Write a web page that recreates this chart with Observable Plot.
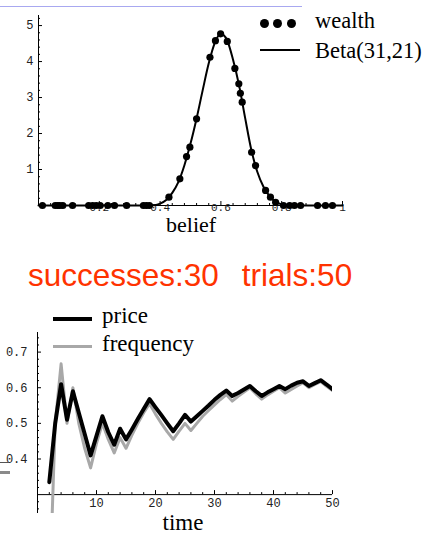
<!DOCTYPE html>
<html><head><meta charset="utf-8">
<script src="https://cdn.jsdelivr.net/npm/d3@7"></script>
<script src="https://cdn.jsdelivr.net/npm/@observablehq/plot@0.6"></script>
<style>
html,body{margin:0;padding:0;background:#fff;}
#page{position:relative;width:431px;height:535px;overflow:hidden;background:#fff;}
.abs{position:absolute;white-space:pre;line-height:1;}
.serif{font-family:"Liberation Serif","Times New Roman",serif;color:#000;}
.plot{position:absolute;left:0;}
</style></head><body><div id="page"></div>
<script>
// ---------- Top chart data (wealth distribution vs Beta(31,21)) ----------
const curveBelief = [0, 0.35, 0.38, 0.40, 0.42, 0.44, 0.46, 0.48, 0.50, 0.52, 0.54, 0.56, 0.58, 0.60, 0.62, 0.64, 0.66, 0.68, 0.70, 0.72, 0.74, 0.76, 0.78, 0.80, 0.82, 1];
const curveDensity = [0, 0, 0.01, 0.05, 0.15, 0.35, 0.65, 1.12, 1.72, 2.42, 3.2, 3.95, 4.52, 4.77, 4.6, 4.05, 3.33, 2.42, 1.55, 0.93, 0.52, 0.26, 0.1, 0.03, 0, 0];
const wealthBelief = [0.013, 0.055, 0.063, 0.07, 0.08, 0.112, 0.165, 0.178, 0.19, 0.203, 0.228, 0.25, 0.29, 0.345, 0.355, 0.365,
  0.429, 0.465, 0.487, 0.498, 0.52, 0.564, 0.582, 0.599, 0.621, 0.646, 0.659, 0.664, 0.67, 0.701, 0.714, 0.747, 0.763, 0.78,
  0.806, 0.826, 0.842, 0.862, 0.918, 0.944, 0.967];
const wealthValue = [0, 0, 0, 0, 0, 0, 0, 0, 0, 0, 0, 0, 0, 0, 0, 0,
  0.23, 0.74, 1.36, 1.62, 2.41, 4.12, 4.58, 4.77, 4.56, 3.81, 3.38, 3.12, 2.87, 1.48, 1.11, 0.42, 0.23, 0.09,
  0, 0, 0, 0, 0, 0, 0];
const beliefTicks = [0.2, 0.4, 0.6, 0.8, 1];
const beliefTickLabels = ["0.2", "0.4", "0.6", "0.8", "1"];
const densityTicks = [1, 2, 3, 4, 5];
const densityTickLabels = ["1", "2", "3", "4", "5"];

// ---------- Bottom chart data (price vs frequency over time) ----------
const times = [2,3,4,5,6,7,8,9,10,11,12,13,14,15,16,17,18,19,20,21,22,23,24,25,26,27,28,29,30,31,32,33,34,35,36,37,38,39,40,41,42,43,44,45,46,47,48,49,50];
const price = [0.335,0.50,0.61,0.51,0.59,0.53,0.47,0.41,0.465,0.52,0.475,0.44,0.485,0.455,0.483,0.512,0.54,0.568,0.545,0.523,0.50,0.478,0.50,0.524,0.505,0.52,0.535,0.55,0.566,0.58,0.592,0.577,0.585,0.595,0.605,0.59,0.577,0.587,0.596,0.605,0.596,0.606,0.614,0.618,0.605,0.613,0.621,0.609,0.596];
const frequency = [0,0.5,0.667,0.5,0.6,0.5,0.43,0.375,0.444,0.5,0.455,0.417,0.46,0.43,0.467,0.5,0.53,0.555,0.526,0.5,0.476,0.455,0.478,0.5,0.48,0.5,0.52,0.536,0.552,0.567,0.581,0.5625,0.576,0.588,0.6,0.583,0.568,0.58,0.59,0.6,0.585,0.595,0.605,0.614,0.6,0.609,0.617,0.604,0.592];
const timeTicks = [10, 20, 30, 40, 50];
const timeTickLabels = ["10", "20", "30", "40", "50"];
const priceTicks = [0.4, 0.5, 0.6, 0.7];
const priceTickLabels = ["0.4", "0.5", "0.6", "0.7"];

const MONO = '"Liberation Mono","Courier New",monospace';
const page = document.getElementById("page");

// axis helper: ticks drawn inside (toward the plot), labels outside
function axisMarks(o) {
  const {W, H, ml, mr, mt, mb, xd, yd, xBase, yBase, xMaj, xMajLab, xMin, yMaj, yMajLab, yMin, xLabDy, yLabDx, xFont, yFont} = o;
  const pxX = (xd[1] - xd[0]) / (W - ml - mr);
  const pxY = (yd[1] - yd[0]) / (H - mt - mb);
  const majLen = 4, minLen = 2;
  const marks = [];
  marks.push(Plot.ruleY([yBase], {stroke: "#000", strokeWidth: 1}));
  marks.push(Plot.ruleX([xBase], {stroke: "#000", strokeWidth: 1}));
  marks.push(Plot.ruleX(xMaj, {x: d => d, y1: yBase, y2: yBase + majLen * pxY, stroke: "#000"}));
  marks.push(Plot.ruleX(xMin, {x: d => d, y1: yBase, y2: yBase + minLen * pxY, stroke: "#000"}));
  marks.push(Plot.ruleY(yMaj, {y: d => d, x1: xBase, x2: xBase + majLen * pxX, stroke: "#000"}));
  marks.push(Plot.ruleY(yMin, {y: d => d, x1: xBase, x2: xBase + minLen * pxX, stroke: "#000"}));
  marks.push(Plot.text(xMaj, {x: d => d, y: yBase, text: (d, i) => xMajLab[i], lineAnchor: "top", dy: xLabDy, fontFamily: MONO, fontSize: xFont, fill: "#222"}));
  marks.push(Plot.text(yMaj, {x: xBase, y: d => d, text: (d, i) => yMajLab[i], textAnchor: "end", dx: yLabDx, fontFamily: MONO, fontSize: yFont, fill: "#222"}));
  return marks;
}

// ---------- Top plot ----------
{
  const W = 431, H = 250, ml = 38, mr = 89, mt = 15, mb = 45;
  const xd = [0, 1], yd = [0, 5.28];
  const curve = curveBelief.map((b, i) => ({b, v: curveDensity[i]}));
  const wealth = wealthBelief.map((b, i) => ({b, v: wealthValue[i]}));
  const xMin = d3.range(0.04, 1.0001, 0.04).filter(v => Math.abs(v / 0.2 - Math.round(v / 0.2)) > 1e-6);
  const yMin = d3.range(0.2, 5.2001, 0.2).filter(v => Math.abs(v - Math.round(v)) > 1e-6);
  const chart = Plot.plot({
    width: W, height: H, marginLeft: ml, marginRight: mr, marginTop: mt, marginBottom: mb,
    x: {domain: xd, axis: null}, y: {domain: yd, axis: null},
    style: {background: "transparent", overflow: "visible"},
    marks: [
      ...axisMarks({W, H, ml, mr, mt, mb, xd, yd, xBase: 0, yBase: 0,
        xMaj: beliefTicks, xMajLab: beliefTickLabels, xMin,
        yMaj: densityTicks, yMajLab: densityTickLabels, yMin, xLabDy: -2, yLabDx: -5, xFont: 11, yFont: 12}),
      Plot.line(curve, {x: "b", y: "v", curve: "monotone-x", stroke: "#000", strokeWidth: 2}),
      Plot.dot(wealth, {x: "b", y: "v", r: 3.6, fill: "#000", stroke: "none"})
    ]
  });
  chart.classList.add("plot"); chart.style.top = "0px";
  page.appendChild(chart);
}

// ---------- Bottom plot ----------
{
  const W = 431, H = 245, ml = 37, mr = 99, mt = 42, mb = 22;
  const xd = [0, 50], yd = [0.247, 0.755];
  const rows = times.map((t, i) => ({t, p: price[i], f: frequency[i]}));
  const xMin = d3.range(2, 50, 2).filter(v => v % 10 !== 0);
  const yMin = d3.range(0.26, 0.75, 0.02).filter(v => Math.abs(v * 10 - Math.round(v * 10)) > 1e-6);
  const chart = Plot.plot({
    width: W, height: H, marginLeft: ml, marginRight: mr, marginTop: mt, marginBottom: mb,
    x: {domain: xd, axis: null}, y: {domain: yd, axis: null},
    style: {background: "transparent", overflow: "visible"},
    marks: [
      ...axisMarks({W, H, ml, mr, mt, mb, xd, yd, xBase: 0, yBase: 0.3,
        xMaj: timeTicks, xMajLab: timeTickLabels, xMin,
        yMaj: priceTicks, yMajLab: priceTickLabels, yMin, xLabDy: 4, yLabDx: -10, xFont: 12, yFont: 12}),
      Plot.line(rows, {x: "t", y: "f", stroke: "#a8a8a8", strokeWidth: 3, clip: true}),
      Plot.line(rows, {x: "t", y: "p", stroke: "#000", strokeWidth: 4, clip: true})
    ]
  });
  chart.classList.add("plot"); chart.style.top = "290px";
  page.appendChild(chart);
}

// ---------- Text, legends and slide decorations ----------
function addDiv(css, text, cls) {
  const d = document.createElement("div");
  d.className = "abs " + (cls || "");
  d.style.cssText += css;
  if (text != null) d.textContent = text;
  page.appendChild(d);
  return d;
}
// slide decorations
addDiv("left:0;top:6px;width:302px;height:1px;background:#a8a8f0;");
addDiv("left:0;top:462px;width:9px;height:1px;background:#555;");
addDiv("left:0;top:471px;width:10px;height:3px;background:#8a8a8a;");

// top legend
[264, 277.5, 291].forEach(cx => addDiv(`left:${cx - 4.5}px;top:18.5px;width:9px;height:9px;border-radius:50%;background:#000;`));
addDiv("left:260px;top:49px;width:40px;height:2px;background:#000;");
addDiv("left:315px;top:9.5px;font-size:22.5px;", "wealth", "serif");
addDiv("left:315px;top:39.5px;font-size:22.5px;", "Beta(31,21)", "serif");
// axis titles
addDiv("left:166px;top:217px;font-size:22px;line-height:0.75;", "belief", "serif");
addDiv("left:133px;width:100px;text-align:center;top:510.5px;font-size:23px;", "time", "serif");
// red annotation
const red = addDiv("left:28px;top:260px;font-size:31.5px;color:#ff3300;font-family:'Liberation Sans',Arial,sans-serif;", null);
const s1 = document.createElement("span"); s1.textContent = "successes:30"; red.appendChild(s1);
const s2 = document.createElement("span"); s2.textContent = "trials:50"; s2.style.marginLeft = "23px"; red.appendChild(s2);
// bottom legend
addDiv("left:53px;top:317px;width:39px;height:4px;background:#000;");
addDiv("left:53px;top:345px;width:39px;height:3px;background:#a8a8a8;");
addDiv("left:102px;top:304px;font-size:23px;", "price", "serif");
addDiv("left:102px;top:332px;font-size:23px;", "frequency", "serif");
</script>
</body></html>
